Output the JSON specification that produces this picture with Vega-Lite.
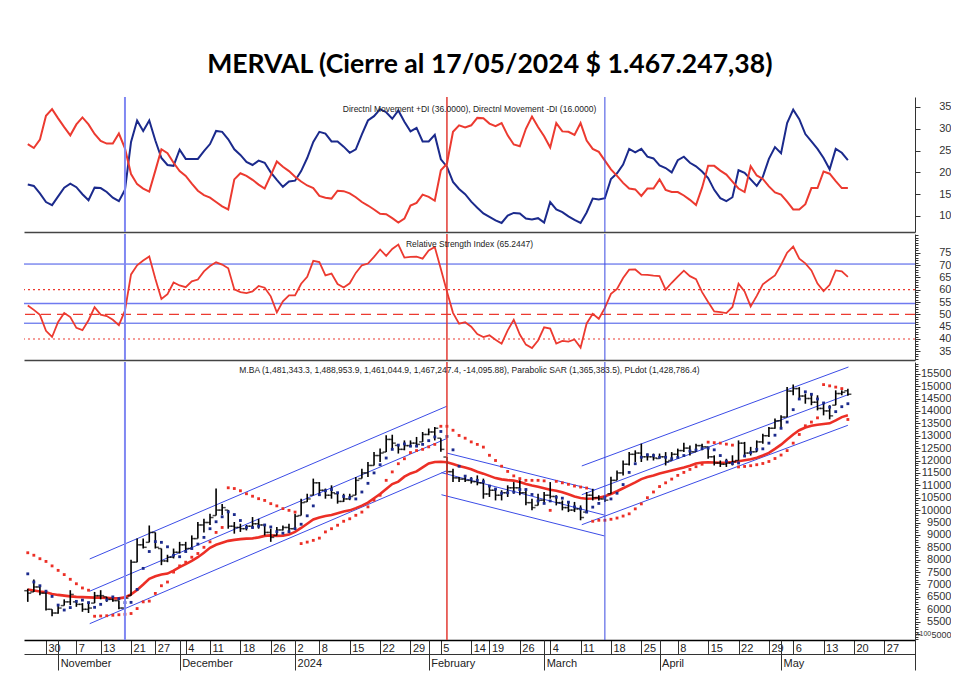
{
"$schema": "https://vega.github.io/schema/vega-lite/v6.json",
"background": "white",
"padding": {"left": 22, "top": 52, "right": 0, "bottom": 0},
"spacing": 0,
"title": {"text": "MERVAL (Cierre al 17/05/2024 $ 1.467.247,38)", "font": "Lato", "fontSize": 26.6, "fontWeight": "bold", "color": "#000000", "anchor": "middle", "frame": "bounds", "offset": 17, "dx": 3},
"config": {"view": {"stroke": null}, "font": "Liberation Sans", "axis": {"grid": false, "labelFont": "Liberation Sans", "labelColor": "#333333", "labelFontSize": 11, "domainColor": "#333333", "tickColor": "#333333"}},
"datasets": {
"d": [
{"i":0,"o":6750,"h":6830,"l":6300,"c":6650,"ma":6800,"sar":8280,"pl":7430,"pdi":17.2,"mdi":26.5,"rsi":53.6},
{"i":1,"o":6700,"h":7200,"l":6700,"c":6900,"ma":6760,"sar":8180,"pl":7100,"pdi":16.9,"mdi":25.6,"rsi":51.8},
{"i":2,"o":6900,"h":6970,"l":6570,"c":6650,"ma":6720,"sar":8040,"pl":6950,"pdi":15.2,"mdi":27.5,"rsi":49.8},
{"i":3,"o":6650,"h":6700,"l":5950,"c":6000,"ma":6690,"sar":7930,"pl":6730,"pdi":13.2,"mdi":33.0,"rsi":43.3},
{"i":4,"o":6000,"h":6000,"l":5720,"c":5850,"ma":6620,"sar":7750,"pl":6520,"pdi":12.5,"mdi":34.5,"rsi":40.8},
{"i":5,"o":5850,"h":6130,"l":5820,"c":6050,"ma":6580,"sar":7570,"pl":6170,"pdi":14.5,"mdi":32.4,"rsi":46.9},
{"i":6,"o":6150,"h":6400,"l":6150,"c":6300,"ma":6550,"sar":7400,"pl":5970,"pdi":16.5,"mdi":30.4,"rsi":50.5},
{"i":7,"o":6300,"h":6770,"l":6170,"c":6600,"ma":6520,"sar":7210,"pl":6070,"pdi":17.4,"mdi":28.5,"rsi":48.9},
{"i":8,"o":6300,"h":6300,"l":6100,"c":6200,"ma":6500,"sar":7030,"pl":6320,"pdi":16.6,"mdi":31.0,"rsi":44.5},
{"i":9,"o":6200,"h":6250,"l":5900,"c":6000,"ma":6490,"sar":6860,"pl":6370,"pdi":15.0,"mdi":32.6,"rsi":43.6},
{"i":10,"o":6000,"h":6300,"l":5850,"c":6050,"ma":6480,"sar":6770,"pl":6270,"pdi":13.6,"mdi":31.0,"rsi":47.6},
{"i":11,"o":6250,"h":6700,"l":6250,"c":6550,"ma":6470,"sar":5720,"pl":6080,"pdi":16.5,"mdi":28.8,"rsi":52.9},
{"i":12,"o":6550,"h":6770,"l":6400,"c":6550,"ma":6470,"sar":5730,"pl":6200,"pdi":16.4,"mdi":27.2,"rsi":49.9},
{"i":13,"o":6500,"h":6500,"l":6300,"c":6400,"ma":6460,"sar":5740,"pl":6380,"pdi":15.5,"mdi":26.6,"rsi":49.3},
{"i":14,"o":6400,"h":6450,"l":6300,"c":6350,"ma":6440,"sar":5760,"pl":6500,"pdi":14.2,"mdi":26.6,"rsi":47.8},
{"i":15,"o":6350,"h":6350,"l":6000,"c":6050,"ma":6440,"sar":5780,"pl":6430,"pdi":13.4,"mdi":28.9,"rsi":45.6},
{"i":16,"o":6050,"h":6550,"l":6000,"c":6450,"ma":6480,"sar":5800,"pl":6270,"pdi":16.0,"mdi":25.5,"rsi":51.5},
{"i":17,"o":6550,"h":8000,"l":6550,"c":7900,"ma":6600,"sar":5830,"pl":6280,"pdi":27.0,"mdi":19.6,"rsi":66.2},
{"i":18,"o":7900,"h":8850,"l":7900,"c":8600,"ma":6780,"sar":6030,"pl":6800,"pdi":31.9,"mdi":17.3,"rsi":69.9},
{"i":19,"o":8600,"h":8850,"l":8450,"c":8500,"ma":7000,"sar":6300,"pl":7650,"pdi":29.5,"mdi":16.3,"rsi":71.8},
{"i":20,"o":8700,"h":9380,"l":8700,"c":9100,"ma":7230,"sar":6330,"pl":8330,"pdi":31.9,"mdi":15.6,"rsi":73.5},
{"i":21,"o":9100,"h":9100,"l":8450,"c":8500,"ma":7330,"sar":6640,"pl":8730,"pdi":27.3,"mdi":20.4,"rsi":64.4},
{"i":22,"o":8450,"h":8450,"l":7780,"c":7950,"ma":7400,"sar":6950,"pl":8700,"pdi":23.3,"mdi":25.3,"rsi":56.2},
{"i":23,"o":7950,"h":8200,"l":7900,"c":8100,"ma":7440,"sar":7100,"pl":8520,"pdi":21.7,"mdi":24.4,"rsi":58.2},
{"i":24,"o":8100,"h":8450,"l":8050,"c":8300,"ma":7560,"sar":7500,"pl":8180,"pdi":21.5,"mdi":22.2,"rsi":62.9},
{"i":25,"o":8300,"h":8720,"l":8250,"c":8600,"ma":7700,"sar":7750,"pl":8120,"pdi":25.2,"mdi":20.3,"rsi":61.7},
{"i":26,"o":8600,"h":8720,"l":8300,"c":8450,"ma":7820,"sar":7900,"pl":8330,"pdi":23.1,"mdi":19.2,"rsi":61.0},
{"i":27,"o":8450,"h":8980,"l":8450,"c":8850,"ma":7950,"sar":8100,"pl":8450,"pdi":23.1,"mdi":17.4,"rsi":63.4},
{"i":28,"o":8850,"h":9520,"l":8850,"c":9400,"ma":8100,"sar":8250,"pl":8630,"pdi":23.1,"mdi":15.8,"rsi":64.1},
{"i":29,"o":9400,"h":9650,"l":9100,"c":9500,"ma":8280,"sar":8500,"pl":8900,"pdi":24.9,"mdi":14.8,"rsi":67.4},
{"i":30,"o":9500,"h":9850,"l":9400,"c":9700,"ma":8480,"sar":8720,"pl":9250,"pdi":26.5,"mdi":14.2,"rsi":69.6},
{"i":31,"o":9780,"h":10870,"l":9780,"c":10000,"ma":8600,"sar":9100,"pl":9530,"pdi":29.5,"mdi":13.2,"rsi":71.1},
{"i":32,"o":10000,"h":10250,"l":9800,"c":10100,"ma":8680,"sar":9300,"pl":9730,"pdi":29.3,"mdi":12.2,"rsi":70.2},
{"i":33,"o":10000,"h":10000,"l":9250,"c":9350,"ma":8760,"sar":10900,"pl":9930,"pdi":27.6,"mdi":11.5,"rsi":68.7},
{"i":34,"o":9350,"h":9520,"l":9050,"c":9300,"ma":8800,"sar":10870,"pl":9820,"pdi":25.3,"mdi":18.4,"rsi":60.1},
{"i":35,"o":9300,"h":9450,"l":9120,"c":9250,"ma":8830,"sar":10780,"pl":9580,"pdi":24.0,"mdi":19.8,"rsi":59.0},
{"i":36,"o":9250,"h":9400,"l":9180,"c":9350,"ma":8850,"sar":10660,"pl":9300,"pdi":22.4,"mdi":19.2,"rsi":58.6},
{"i":37,"o":9350,"h":9720,"l":9250,"c":9450,"ma":8860,"sar":10560,"pl":9300,"pdi":21.7,"mdi":18.3,"rsi":59.3},
{"i":38,"o":9450,"h":9650,"l":9250,"c":9400,"ma":8900,"sar":10460,"pl":9350,"pdi":22.7,"mdi":17.2,"rsi":61.5},
{"i":39,"o":9400,"h":9400,"l":8980,"c":9100,"ma":8960,"sar":10390,"pl":9400,"pdi":22.2,"mdi":16.3,"rsi":60.8},
{"i":40,"o":9100,"h":9250,"l":8720,"c":8900,"ma":8980,"sar":10260,"pl":9320,"pdi":20.0,"mdi":19.3,"rsi":57.3},
{"i":41,"o":8980,"h":9320,"l":8980,"c":9200,"ma":8960,"sar":10170,"pl":9130,"pdi":18.3,"mdi":22.5,"rsi":50.8},
{"i":42,"o":9200,"h":9380,"l":9180,"c":9300,"ma":8970,"sar":10060,"pl":9070,"pdi":16.7,"mdi":21.3,"rsi":55.3},
{"i":43,"o":9300,"h":9450,"l":9120,"c":9250,"ma":9020,"sar":9990,"pl":9130,"pdi":17.9,"mdi":20.3,"rsi":57.7},
{"i":44,"o":9250,"h":9850,"l":9250,"c":9750,"ma":9120,"sar":9920,"pl":9250,"pdi":18.1,"mdi":19.0,"rsi":57.7},
{"i":45,"o":9780,"h":10460,"l":9780,"c":10300,"ma":9280,"sar":8650,"pl":9430,"pdi":20.3,"mdi":17.9,"rsi":62.4},
{"i":46,"o":10330,"h":10660,"l":10330,"c":10450,"ma":9450,"sar":8710,"pl":9770,"pdi":23.3,"mdi":17.0,"rsi":65.2},
{"i":47,"o":10600,"h":11270,"l":10600,"c":11100,"ma":9620,"sar":8780,"pl":10170,"pdi":27.0,"mdi":16.4,"rsi":71.7},
{"i":48,"o":11100,"h":11130,"l":10600,"c":10800,"ma":9700,"sar":8870,"pl":10620,"pdi":29.3,"mdi":14.6,"rsi":71.2},
{"i":49,"o":10800,"h":10870,"l":10460,"c":10600,"ma":9760,"sar":9120,"pl":10780,"pdi":28.9,"mdi":14.2,"rsi":65.8},
{"i":50,"o":10600,"h":11000,"l":10460,"c":10700,"ma":9800,"sar":9250,"pl":10830,"pdi":27.1,"mdi":14.0,"rsi":66.5},
{"i":51,"o":10660,"h":10660,"l":10260,"c":10350,"ma":9870,"sar":9390,"pl":10700,"pdi":27.1,"mdi":15.8,"rsi":62.3},
{"i":52,"o":10350,"h":10660,"l":10330,"c":10450,"ma":9940,"sar":9550,"pl":10550,"pdi":25.9,"mdi":15.7,"rsi":60.9},
{"i":53,"o":10450,"h":10660,"l":10400,"c":10550,"ma":9990,"sar":9650,"pl":10500,"pdi":24.5,"mdi":15.2,"rsi":62.6},
{"i":54,"o":10600,"h":11330,"l":10600,"c":11200,"ma":10080,"sar":9790,"pl":10450,"pdi":25.3,"mdi":14.3,"rsi":66.8},
{"i":55,"o":11270,"h":11670,"l":11270,"c":11500,"ma":10180,"sar":9920,"pl":10730,"pdi":28.7,"mdi":13.2,"rsi":69.9},
{"i":56,"o":11500,"h":11940,"l":11330,"c":11800,"ma":10300,"sar":10130,"pl":11080,"pdi":31.9,"mdi":12.4,"rsi":70.6},
{"i":57,"o":11800,"h":12340,"l":11800,"c":12200,"ma":10480,"sar":10400,"pl":11500,"pdi":32.9,"mdi":11.5,"rsi":73.3},
{"i":58,"o":12200,"h":12480,"l":11940,"c":12300,"ma":10650,"sar":10600,"pl":11830,"pdi":34.5,"mdi":10.5,"rsi":76.3},
{"i":59,"o":12340,"h":13020,"l":12340,"c":12850,"ma":10850,"sar":11200,"pl":12100,"pdi":33.8,"mdi":10.4,"rsi":73.7},
{"i":60,"o":12850,"h":13040,"l":12480,"c":12700,"ma":11050,"sar":11540,"pl":12450,"pdi":32.3,"mdi":9.5,"rsi":76.5},
{"i":61,"o":12610,"h":12610,"l":12280,"c":12450,"ma":11150,"sar":11870,"pl":12620,"pdi":34.2,"mdi":8.5,"rsi":78.3},
{"i":62,"o":12450,"h":12810,"l":12410,"c":12600,"ma":11350,"sar":12070,"pl":12670,"pdi":31.6,"mdi":9.4,"rsi":73.0},
{"i":63,"o":12600,"h":12810,"l":12540,"c":12700,"ma":11480,"sar":12320,"pl":12580,"pdi":29.4,"mdi":12.4,"rsi":73.3},
{"i":64,"o":12700,"h":12950,"l":12540,"c":12650,"ma":11560,"sar":12400,"pl":12580,"pdi":30.2,"mdi":13.0,"rsi":73.4},
{"i":65,"o":12750,"h":13150,"l":12750,"c":13050,"ma":11720,"sar":12450,"pl":12650,"pdi":27.1,"mdi":14.9,"rsi":72.6},
{"i":66,"o":13050,"h":13290,"l":13020,"c":13150,"ma":11880,"sar":12550,"pl":12800,"pdi":27.1,"mdi":14.4,"rsi":75.9},
{"i":67,"o":13150,"h":13350,"l":12810,"c":13300,"ma":11940,"sar":12650,"pl":12950,"pdi":28.6,"mdi":13.5,"rsi":77.3},
{"i":68,"o":12900,"h":12900,"l":12350,"c":12450,"ma":11950,"sar":13380,"pl":13170,"pdi":23.0,"mdi":20.5,"rsi":68.4},
{"i":69,"o":12140,"h":12140,"l":11470,"c":11550,"ma":11930,"sar":13380,"pl":12970,"pdi":21.3,"mdi":22.0,"rsi":59.3},
{"i":70,"o":11550,"h":11670,"l":11130,"c":11300,"ma":11860,"sar":13220,"pl":12430,"pdi":17.8,"mdi":29.3,"rsi":50.6},
{"i":71,"o":11300,"h":11330,"l":11130,"c":11250,"ma":11780,"sar":13010,"pl":11770,"pdi":16.2,"mdi":30.8,"rsi":46.2},
{"i":72,"o":11250,"h":11400,"l":11130,"c":11200,"ma":11720,"sar":12900,"pl":11370,"pdi":15.0,"mdi":30.3,"rsi":46.8},
{"i":73,"o":11200,"h":11330,"l":11070,"c":11150,"ma":11650,"sar":12750,"pl":11250,"pdi":13.3,"mdi":30.8,"rsi":45.0},
{"i":74,"o":11150,"h":11400,"l":11000,"c":11100,"ma":11550,"sar":12650,"pl":11200,"pdi":11.9,"mdi":32.5,"rsi":42.0},
{"i":75,"o":11100,"h":11270,"l":10460,"c":10650,"ma":11470,"sar":12540,"pl":11150,"pdi":10.6,"mdi":32.4,"rsi":40.8},
{"i":76,"o":10650,"h":11000,"l":10530,"c":10800,"ma":11380,"sar":12210,"pl":10970,"pdi":9.8,"mdi":31.2,"rsi":41.5},
{"i":77,"o":10800,"h":10860,"l":10390,"c":10600,"ma":11290,"sar":12000,"pl":10850,"pdi":9.0,"mdi":30.6,"rsi":39.7},
{"i":78,"o":10600,"h":10800,"l":10390,"c":10700,"ma":11240,"sar":11770,"pl":10680,"pdi":8.4,"mdi":31.3,"rsi":38.1},
{"i":79,"o":10700,"h":11000,"l":10530,"c":10900,"ma":11210,"sar":11560,"pl":10700,"pdi":10.1,"mdi":28.5,"rsi":43.5},
{"i":80,"o":10900,"h":11130,"l":10660,"c":10900,"ma":11190,"sar":11380,"pl":10730,"pdi":10.7,"mdi":26.4,"rsi":47.8},
{"i":81,"o":10900,"h":11200,"l":10600,"c":10700,"ma":11130,"sar":11270,"pl":10830,"pdi":10.6,"mdi":26.0,"rsi":41.8},
{"i":82,"o":10700,"h":10860,"l":10200,"c":10300,"ma":11050,"sar":11200,"pl":10830,"pdi":9.4,"mdi":30.0,"rsi":37.7},
{"i":83,"o":10300,"h":10460,"l":9990,"c":10100,"ma":10990,"sar":11200,"pl":10630,"pdi":9.2,"mdi":32.8,"rsi":36.3},
{"i":84,"o":10190,"h":10660,"l":10190,"c":10400,"ma":10940,"sar":11200,"pl":10370,"pdi":9.5,"mdi":30.4,"rsi":39.4},
{"i":85,"o":10400,"h":10730,"l":10330,"c":10600,"ma":10880,"sar":11180,"pl":10270,"pdi":8.5,"mdi":28.3,"rsi":44.7},
{"i":86,"o":10600,"h":11130,"l":10460,"c":10550,"ma":10820,"sar":9990,"pl":10370,"pdi":13.2,"mdi":25.7,"rsi":44.2},
{"i":87,"o":10550,"h":10600,"l":10190,"c":10300,"ma":10780,"sar":11160,"pl":10520,"pdi":11.5,"mdi":31.3,"rsi":38.1},
{"i":88,"o":10300,"h":10390,"l":9990,"c":10100,"ma":10720,"sar":11100,"pl":10480,"pdi":10.9,"mdi":29.4,"rsi":39.2},
{"i":89,"o":10100,"h":10330,"l":9920,"c":10000,"ma":10640,"sar":11040,"pl":10320,"pdi":9.9,"mdi":29.3,"rsi":38.9},
{"i":90,"o":10000,"h":10330,"l":9920,"c":10050,"ma":10550,"sar":10970,"pl":10130,"pdi":9.1,"mdi":28.6,"rsi":39.8},
{"i":91,"o":10050,"h":10190,"l":9590,"c":9700,"ma":10490,"sar":10930,"pl":10050,"pdi":8.4,"mdi":31.3,"rsi":36.5},
{"i":92,"o":9920,"h":10730,"l":9920,"c":10600,"ma":10460,"sar":10890,"pl":9920,"pdi":10.8,"mdi":27.3,"rsi":46.3},
{"i":93,"o":10600,"h":10860,"l":10390,"c":10500,"ma":10470,"sar":9550,"pl":10120,"pdi":14.0,"mdi":25.4,"rsi":50.2},
{"i":94,"o":10500,"h":10600,"l":10390,"c":10450,"ma":10500,"sar":9590,"pl":10270,"pdi":13.8,"mdi":24.7,"rsi":48.2},
{"i":95,"o":10450,"h":10530,"l":10330,"c":10400,"ma":10560,"sar":9590,"pl":10520,"pdi":14.1,"mdi":22.7,"rsi":52.6},
{"i":96,"o":10660,"h":11340,"l":10660,"c":11200,"ma":10650,"sar":9630,"pl":10450,"pdi":18.5,"mdi":20.7,"rsi":58.3},
{"i":97,"o":11200,"h":11600,"l":11200,"c":11500,"ma":10760,"sar":9680,"pl":10680,"pdi":19.8,"mdi":19.2,"rsi":60.3},
{"i":98,"o":11500,"h":12000,"l":11400,"c":11850,"ma":10880,"sar":9760,"pl":11030,"pdi":21.8,"mdi":17.6,"rsi":64.7},
{"i":99,"o":11850,"h":12340,"l":11800,"c":12250,"ma":11000,"sar":9850,"pl":11520,"pdi":25.4,"mdi":16.3,"rsi":68.1},
{"i":100,"o":12250,"h":12410,"l":11940,"c":12300,"ma":11120,"sar":10050,"pl":11870,"pdi":24.6,"mdi":16.1,"rsi":68.2},
{"i":101,"o":12300,"h":12680,"l":11940,"c":12150,"ma":11250,"sar":10250,"pl":12130,"pdi":25.4,"mdi":14.6,"rsi":66.1},
{"i":102,"o":12150,"h":12280,"l":12000,"c":12150,"ma":11330,"sar":10500,"pl":12230,"pdi":23.6,"mdi":16.3,"rsi":66.0},
{"i":103,"o":12150,"h":12280,"l":12000,"c":12100,"ma":11400,"sar":10730,"pl":12200,"pdi":23.2,"mdi":16.3,"rsi":65.7},
{"i":104,"o":12080,"h":12280,"l":12080,"c":12150,"ma":11480,"sar":10950,"pl":12130,"pdi":21.6,"mdi":18.4,"rsi":65.5},
{"i":105,"o":12150,"h":12340,"l":11800,"c":11950,"ma":11540,"sar":11100,"pl":12130,"pdi":21.0,"mdi":16.0,"rsi":60.0},
{"i":106,"o":12000,"h":12340,"l":12000,"c":12250,"ma":11600,"sar":11250,"pl":12070,"pdi":20.0,"mdi":15.5,"rsi":62.8},
{"i":107,"o":12250,"h":12480,"l":12140,"c":12400,"ma":11660,"sar":11400,"pl":12120,"pdi":22.8,"mdi":15.5,"rsi":65.3},
{"i":108,"o":12400,"h":12720,"l":12340,"c":12500,"ma":11720,"sar":11520,"pl":12200,"pdi":23.6,"mdi":14.7,"rsi":67.7},
{"i":109,"o":12500,"h":12610,"l":12200,"c":12350,"ma":11790,"sar":11640,"pl":12380,"pdi":22.2,"mdi":13.7,"rsi":65.5},
{"i":110,"o":12350,"h":12680,"l":12340,"c":12600,"ma":11880,"sar":11750,"pl":12420,"pdi":21.4,"mdi":12.5,"rsi":64.3},
{"i":111,"o":12600,"h":12680,"l":12410,"c":12550,"ma":11920,"sar":11850,"pl":12480,"pdi":20.2,"mdi":16.5,"rsi":59.0},
{"i":112,"o":12550,"h":12550,"l":12070,"c":12150,"ma":11930,"sar":12740,"pl":12500,"pdi":18.7,"mdi":21.5,"rsi":55.0},
{"i":113,"o":12150,"h":12210,"l":11800,"c":11900,"ma":11920,"sar":12720,"pl":12430,"pdi":16.0,"mdi":21.5,"rsi":51.2},
{"i":114,"o":11900,"h":12000,"l":11740,"c":11850,"ma":11910,"sar":12700,"pl":12200,"pdi":14.1,"mdi":20.4,"rsi":50.9},
{"i":115,"o":11850,"h":12070,"l":11740,"c":11900,"ma":11920,"sar":12660,"pl":11970,"pdi":13.4,"mdi":19.5,"rsi":50.5},
{"i":116,"o":11900,"h":12210,"l":11800,"c":11950,"ma":11940,"sar":12620,"pl":11880,"pdi":14.3,"mdi":17.9,"rsi":53.0},
{"i":117,"o":12000,"h":12810,"l":12000,"c":12700,"ma":11970,"sar":11740,"pl":11900,"pdi":20.5,"mdi":16.3,"rsi":62.4},
{"i":118,"o":12700,"h":12750,"l":12140,"c":12300,"ma":12010,"sar":11760,"pl":12180,"pdi":19.9,"mdi":15.5,"rsi":59.3},
{"i":119,"o":12300,"h":12550,"l":12200,"c":12350,"ma":12050,"sar":11790,"pl":12320,"pdi":18.4,"mdi":21.4,"rsi":53.2},
{"i":120,"o":12350,"h":12810,"l":12340,"c":12750,"ma":12110,"sar":11830,"pl":12450,"pdi":16.9,"mdi":19.3,"rsi":57.5},
{"i":121,"o":12750,"h":13080,"l":12680,"c":13000,"ma":12200,"sar":11880,"pl":12470,"pdi":19.0,"mdi":18.5,"rsi":62.2},
{"i":122,"o":13000,"h":13350,"l":12950,"c":13300,"ma":12310,"sar":11960,"pl":12700,"pdi":23.1,"mdi":16.8,"rsi":64.0},
{"i":123,"o":13300,"h":13690,"l":13280,"c":13600,"ma":12470,"sar":12080,"pl":13020,"pdi":25.8,"mdi":15.4,"rsi":65.8},
{"i":124,"o":13600,"h":13820,"l":13350,"c":13750,"ma":12640,"sar":12220,"pl":13300,"pdi":24.4,"mdi":14.9,"rsi":70.1},
{"i":125,"o":13750,"h":14960,"l":13750,"c":14800,"ma":12850,"sar":12400,"pl":13550,"pdi":31.3,"mdi":13.3,"rsi":75.0},
{"i":126,"o":14800,"h":15060,"l":14630,"c":14900,"ma":13050,"sar":12700,"pl":14050,"pdi":34.4,"mdi":11.5,"rsi":77.5},
{"i":127,"o":14900,"h":14960,"l":14500,"c":14600,"ma":13220,"sar":13050,"pl":14480,"pdi":32.2,"mdi":11.5,"rsi":72.6},
{"i":128,"o":14600,"h":14700,"l":14290,"c":14500,"ma":13330,"sar":13400,"pl":14770,"pdi":28.8,"mdi":12.7,"rsi":70.7},
{"i":129,"o":14500,"h":14700,"l":14230,"c":14350,"ma":13400,"sar":13550,"pl":14670,"pdi":27.1,"mdi":16.4,"rsi":67.8},
{"i":130,"o":14350,"h":14630,"l":14020,"c":14100,"ma":13440,"sar":13720,"pl":14480,"pdi":25.4,"mdi":16.4,"rsi":62.5},
{"i":131,"o":14100,"h":14290,"l":13820,"c":14000,"ma":13470,"sar":15060,"pl":14320,"pdi":23.3,"mdi":20.2,"rsi":59.4},
{"i":132,"o":14000,"h":14230,"l":13660,"c":13800,"ma":13500,"sar":15010,"pl":14150,"pdi":20.7,"mdi":19.7,"rsi":62.0},
{"i":133,"o":14230,"h":14830,"l":14230,"c":14700,"ma":13620,"sar":14960,"pl":13970,"pdi":25.4,"mdi":18.0,"rsi":67.8},
{"i":134,"o":14700,"h":14830,"l":14630,"c":14750,"ma":13750,"sar":14900,"pl":14170,"pdi":24.5,"mdi":16.4,"rsi":67.4},
{"i":135,"o":14813,"h":14890,"l":14610,"c":14672,"ma":13820,"sar":13654,"pl":14290,"pdi":22.8,"mdi":16.4,"rsi":65.2}
],
"chan": [
{"g":"c1u","i":10.2,"p":8030},{"g":"c1u","i":69,"p":14190},
{"g":"c1m","i":10.2,"p":6730},{"g":"c1m","i":69,"p":12890},
{"g":"c1l","i":10.2,"p":5420},{"g":"c1l","i":69,"p":11590},
{"g":"c2u","i":69,"p":12300},{"g":"c2u","i":93.3,"p":10810},
{"g":"c2m","i":68.1,"p":11510},{"g":"c2m","i":94.9,"p":9800},
{"g":"c2l","i":68.1,"p":10620},{"g":"c2l","i":94.9,"p":8960},
{"g":"c3u","i":91.2,"p":11780},{"g":"c3u","i":135.1,"p":15770},
{"g":"c3m","i":91.2,"p":10620},{"g":"c3m","i":135.2,"p":14670},
{"g":"c3l","i":91.2,"p":9410},{"g":"c3l","i":135.0,"p":13420}
],
"vl": [{"i":16,"k":"a"},{"i":69,"k":"b"},{"i":95,"k":"c"}],
"lv": [{"v":70.4,"k":"b"},{"v":54.4,"k":"b2"},{"v":46.4,"k":"b"},{"v":60,"k":"dot"},{"v":40,"k":"dot"},{"v":50,"k":"dash"}],
"unit": [{"t":"x100","i":146.05,"p":5000}]
},
"vconcat": [
{
"width": 891, "height": 135,
"title": {"text": "Directnl Movement +DI (36.0000), Directnl Movement -DI (16.0000)", "font": "Liberation Sans", "fontSize": 8.5, "fontWeight": "normal", "color": "#222222", "offset": -17, "anchor": "middle", "frame": "group"},
"resolve": {"axis": {"x": "independent", "y": "independent"}},
"layer": [
{"data": {"name": "d"}, "mark": {"type": "line", "color": "#1b2a8c", "strokeWidth": 2},
 "encoding": {
  "x": {"field": "i", "type": "quantitative", "scale": {"domain": [-0.62, 146.05], "nice": false, "zero": false}, "axis": {"orient": "bottom", "domain": true, "domainColor": "#444444", "domainWidth": 1.5, "ticks": false, "labels": false, "title": null}},
  "y": {"field": "pdi", "type": "quantitative", "scale": {"domain": [6.33, 37.29], "nice": false, "zero": false}, "axis": {"orient": "right", "values": [10,15,20,25,30,35], "tickSize": 5, "labelAlign": "right", "labelPadding": 31, "title": null, "domainColor": "#333333"}}}},
{"data": {"name": "d"}, "mark": {"type": "line", "color": "#ec3a30", "strokeWidth": 2},
 "encoding": {
  "x": {"field": "i", "type": "quantitative", "scale": {"domain": [-0.62, 146.05], "nice": false, "zero": false}, "axis": null},
  "y": {"field": "mdi", "type": "quantitative", "scale": {"domain": [6.33, 37.29], "nice": false, "zero": false}, "axis": null}}},
{"data": {"name": "vl"}, "mark": {"type": "rule"},
 "encoding": {
  "x": {"field": "i", "type": "quantitative", "scale": {"domain": [-0.62, 146.05], "nice": false, "zero": false}, "axis": null},
  "color": {"field": "k", "type": "nominal", "scale": {"domain": ["a","b","c"], "range": ["#8088f2","#e23a32","#3a48e0"]}, "legend": null},
  "strokeWidth": {"field": "k", "type": "ordinal", "scale": {"domain": ["a","b","c"], "range": [2,1,1]}, "legend": null}}}
]
},
{
"width": 891, "height": 126,
"title": {"text": "Relative Strength Index (65.2447)", "font": "Liberation Sans", "fontSize": 8.5, "fontWeight": "normal", "color": "#222222", "offset": -15, "anchor": "middle", "frame": "group"},
"resolve": {"axis": {"x": "independent", "y": "independent"}},
"layer": [
{"data": {"name": "lv"}, "transform": [{"filter": "datum.k == 'b'"}], "mark": {"type": "rule", "color": "#3f51e6", "strokeWidth": 1},
 "encoding": {"y": {"field": "v", "type": "quantitative", "scale": {"domain": [31.47, 82.59], "nice": false, "zero": false}, "axis": {"orient": "right", "values": [32,33,34,35,36,37,38,39,40,41,42,43,44,45,46,47,48,49,50,51,52,53,54,55,56,57,58,59,60,61,62,63,64,65,66,67,68,69,70,71,72,73,74,75,76,77,78,79,80,81,82], "tickSize": 3, "labels": false, "domain": false, "title": null}}}},
{"data": {"name": "lv"}, "transform": [{"filter": "datum.k == 'b2'"}], "mark": {"type": "rule", "color": "#6f7af0", "strokeWidth": 1.6},
 "encoding": {"y": {"field": "v", "type": "quantitative", "scale": {"domain": [31.47, 82.59], "nice": false, "zero": false}, "axis": null}}},
{"data": {"name": "lv"}, "transform": [{"filter": "datum.k == 'dot'"}], "mark": {"type": "rule", "color": "#ec3a30", "strokeWidth": 1.2, "strokeDash": [2, 3]},
 "encoding": {"y": {"field": "v", "type": "quantitative", "scale": {"domain": [31.47, 82.59], "nice": false, "zero": false}, "axis": null}}},
{"data": {"name": "lv"}, "transform": [{"filter": "datum.k == 'dash'"}], "mark": {"type": "rule", "color": "#ec3a30", "strokeWidth": 1.3, "strokeDash": [10, 6]},
 "encoding": {"y": {"field": "v", "type": "quantitative", "scale": {"domain": [31.47, 82.59], "nice": false, "zero": false}, "axis": null}}},
{"data": {"name": "d"}, "mark": {"type": "line", "color": "#ec3a30", "strokeWidth": 1.8},
 "encoding": {
  "x": {"field": "i", "type": "quantitative", "scale": {"domain": [-0.62, 146.05], "nice": false, "zero": false}, "axis": {"orient": "bottom", "domain": true, "domainColor": "#444444", "domainWidth": 1.5, "ticks": false, "labels": false, "title": null}},
  "y": {"field": "rsi", "type": "quantitative", "scale": {"domain": [31.47, 82.59], "nice": false, "zero": false}, "axis": {"orient": "right", "values": [35,40,45,50,55,60,65,70,75], "tickSize": 5, "labelAlign": "right", "labelPadding": 31, "title": null, "domainColor": "#333333"}}}},
{"data": {"name": "vl"}, "mark": {"type": "rule"},
 "encoding": {
  "x": {"field": "i", "type": "quantitative", "scale": {"domain": [-0.62, 146.05], "nice": false, "zero": false}, "axis": null},
  "color": {"field": "k", "type": "nominal", "scale": {"domain": ["a","b","c"], "range": ["#8088f2","#e23a32","#3a48e0"]}, "legend": null},
  "strokeWidth": {"field": "k", "type": "ordinal", "scale": {"domain": ["a","b","c"], "range": [2,1,1]}, "legend": null}}}
]
},
{
"width": 891, "height": 278,
"title": {"text": "M.BA (1,481,343.3, 1,488,953.9, 1,461,044.9, 1,467,247.4, -14,095.88), Parabolic SAR (1,365,383.5), PLdot (1,428,786.4)", "font": "Liberation Sans", "fontSize": 8.5, "fontWeight": "normal", "color": "#222222", "offset": -13, "anchor": "middle", "frame": "group"},
"resolve": {"axis": {"x": "independent", "y": "independent"}},
"layer": [
{"data": {"name": "chan"}, "mark": {"type": "line", "color": "#3b4ce6", "strokeWidth": 1},
 "encoding": {
  "x": {"field": "i", "type": "quantitative", "scale": {"domain": [-0.62, 146.05], "nice": false, "zero": false}, "axis": null},
  "y": {"field": "p", "type": "quantitative", "scale": {"domain": [4762, 15972], "nice": false, "zero": false}, "axis": null},
  "detail": {"field": "g", "type": "nominal"}}},
{"data": {"name": "d"}, "mark": {"type": "line", "color": "#ec2f26", "strokeWidth": 2.6},
 "encoding": {
  "x": {"field": "i", "type": "quantitative", "scale": {"domain": [-0.62, 146.05], "nice": false, "zero": false}, "axis": null},
  "y": {"field": "ma", "type": "quantitative", "scale": {"domain": [4762, 15972], "nice": false, "zero": false}, "axis": null}}},
{"data": {"name": "d"}, "mark": {"type": "rule", "color": "#000000", "strokeWidth": 1.6},
 "encoding": {
  "x": {"field": "i", "type": "quantitative", "scale": {"domain": [-0.62, 146.05], "nice": false, "zero": false}, "axis": {"orient": "bottom", "values": [3,8,12,17,21,26,30,35,40,44,48,53,58,63,68,73,76,81,86,91,96,101,104,107,112,117,122,126,131,136,141,146], "labelExpr": "['30','7','13','21','27','4','11','18','26','2','8','15','22','29','5','14','19','26','4','11','18','25','','8','15','22','29','6','13','20','27',''][indexof([3,8,12,17,21,26,30,35,40,44,48,53,58,63,68,73,76,81,86,91,96,101,104,107,112,117,122,126,131,136,141,146], datum.value)]", "tickSize": 14, "tickColor": "#333333", "domain": true, "domainColor": "#000000", "domainWidth": 1.5, "labelAlign": "left", "labelBaseline": "top", "labelPadding": -12, "labelOffset": 2, "labelFontSize": 11, "labelColor": "#222222", "labelOverlap": false, "labelBound": false, "labelFlush": false, "title": null}},
  "y": {"field": "l", "type": "quantitative", "scale": {"domain": [4762, 15972], "nice": false, "zero": false}, "axis": {"orient": "right", "values": [5000,5500,6000,6500,7000,7500,8000,8500,9000,9500,10000,10500,11000,11500,12000,12500,13000,13500,14000,14500,15000,15500], "format": "d", "tickSize": 5, "labelAlign": "right", "labelPadding": 31, "labelFontSize": {"condition": {"test": "datum.value == 5000", "value": 9}, "value": 11}, "domainColor": "#333333", "title": null}},
  "y2": {"field": "h"}}},
{"data": {"name": "d"}, "mark": {"type": "tick", "orient": "horizontal", "color": "#000000", "size": 3.5, "thickness": 1.5, "xOffset": -1.75},
 "encoding": {
  "x": {"field": "i", "type": "quantitative", "scale": {"domain": [-0.62, 146.05], "nice": false, "zero": false}, "axis": {"orient": "bottom", "values": [5,25,44,66,85,104,124,146], "labelExpr": "['November','December','2024','February','March','April','May',''][indexof([5,25,44,66,85,104,124,146], datum.value)]", "tickSize": 30, "tickColor": "#333333", "domain": false, "labelAlign": "left", "labelBaseline": "top", "labelPadding": -13, "labelOffset": 2, "labelFontSize": 11, "labelColor": "#222222", "labelOverlap": false, "labelBound": false, "labelFlush": false, "title": null}},
  "y": {"field": "o", "type": "quantitative", "scale": {"domain": [4762, 15972], "nice": false, "zero": false}, "axis": {"orient": "right", "values": [4800,4900,5000,5100,5200,5300,5400,5500,5600,5700,5800,5900,6000,6100,6200,6300,6400,6500,6600,6700,6800,6900,7000,7100,7200,7300,7400,7500,7600,7700,7800,7900,8000,8100,8200,8300,8400,8500,8600,8700,8800,8900,9000,9100,9200,9300,9400,9500,9600,9700,9800,9900,10000,10100,10200,10300,10400,10500,10600,10700,10800,10900,11000,11100,11200,11300,11400,11500,11600,11700,11800,11900,12000,12100,12200,12300,12400,12500,12600,12700,12800,12900,13000,13100,13200,13300,13400,13500,13600,13700,13800,13900,14000,14100,14200,14300,14400,14500,14600,14700,14800,14900,15000,15100,15200,15300,15400,15500,15600,15700,15800,15900], "tickSize": 3, "labels": false, "domain": false, "title": null}}}},
{"data": {"name": "d"}, "mark": {"type": "tick", "orient": "horizontal", "color": "#000000", "size": 3.5, "thickness": 1.5, "xOffset": 1.75},
 "encoding": {
  "x": {"field": "i", "type": "quantitative", "scale": {"domain": [-0.62, 146.05], "nice": false, "zero": false}, "axis": {"orient": "bottom", "offset": 14, "domain": true, "domainColor": "#333333", "domainWidth": 1, "ticks": false, "labels": false, "title": null}},
  "y": {"field": "c", "type": "quantitative", "scale": {"domain": [4762, 15972], "nice": false, "zero": false}, "axis": null}}},
{"data": {"name": "d"}, "mark": {"type": "point", "shape": "square", "filled": true, "size": 8, "color": "#ec2f26", "opacity": 1},
 "encoding": {
  "x": {"field": "i", "type": "quantitative", "scale": {"domain": [-0.62, 146.05], "nice": false, "zero": false}, "axis": null},
  "y": {"field": "sar", "type": "quantitative", "scale": {"domain": [4762, 15972], "nice": false, "zero": false}, "axis": null}}},
{"data": {"name": "d"}, "mark": {"type": "point", "shape": "square", "filled": true, "size": 8, "color": "#1b2a8c", "opacity": 1},
 "encoding": {
  "x": {"field": "i", "type": "quantitative", "scale": {"domain": [-0.62, 146.05], "nice": false, "zero": false}, "axis": null},
  "y": {"field": "pl", "type": "quantitative", "scale": {"domain": [4762, 15972], "nice": false, "zero": false}, "axis": null}}},
{"data": {"name": "vl"}, "mark": {"type": "rule"},
 "encoding": {
  "x": {"field": "i", "type": "quantitative", "scale": {"domain": [-0.62, 146.05], "nice": false, "zero": false}, "axis": null},
  "color": {"field": "k", "type": "nominal", "scale": {"domain": ["a","b","c"], "range": ["#8088f2","#e23a32","#3a48e0"]}, "legend": null},
  "strokeWidth": {"field": "k", "type": "ordinal", "scale": {"domain": ["a","b","c"], "range": [2,1,1]}, "legend": null}}},
{"data": {"name": "unit"}, "mark": {"type": "text", "fontSize": 7, "align": "left", "baseline": "middle", "color": "#333333", "dx": 1},
 "encoding": {
  "x": {"field": "i", "type": "quantitative", "scale": {"domain": [-0.62, 146.05], "nice": false, "zero": false}, "axis": null},
  "y": {"field": "p", "type": "quantitative", "scale": {"domain": [4762, 15972], "nice": false, "zero": false}, "axis": null},
  "text": {"field": "t", "type": "nominal"}}}
]
}
]
}
